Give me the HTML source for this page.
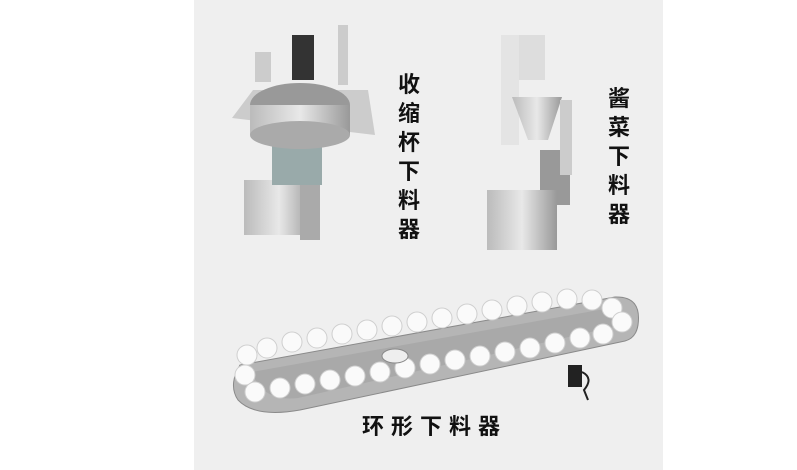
<!DOCTYPE html>
<html><head><meta charset="utf-8"><style>
body{margin:0;width:797px;height:470px;background:#fff;position:relative;overflow:hidden;font-family:"Liberation Sans","Noto Sans CJK SC",sans-serif}
.p{position:absolute;left:194px;top:0;width:469px;height:470px;background:#efefef}
.v{position:absolute;font-size:22px;line-height:29px;width:24px;text-align:center;color:#111;font-weight:bold}
svg{position:absolute;left:0;top:0}
</style></head><body>
<div class="p"></div>
<svg width="797" height="470">
<defs><linearGradient id="m" x1="0" x2="1"><stop offset="0" stop-color="#bbb"/><stop offset=".5" stop-color="#e8e8e8"/><stop offset="1" stop-color="#999"/></linearGradient></defs>
<rect x="244" y="180" width="70" height="55" fill="url(#m)"/>
<rect x="300" y="150" width="20" height="90" fill="#aaa"/>
<rect x="272" y="145" width="50" height="40" fill="#9aa"/>
<polygon points="232,118 253,90 368,90 375,135" fill="#ccc"/>
<ellipse cx="300" cy="105" rx="50" ry="22" fill="#999"/>
<rect x="250" y="105" width="100" height="30" fill="url(#m)"/>
<ellipse cx="300" cy="135" rx="50" ry="14" fill="#aaa"/>
<rect x="292" y="35" width="22" height="45" fill="#333"/>
<rect x="338" y="25" width="10" height="60" fill="#ccc"/>
<rect x="255" y="52" width="16" height="30" fill="#ccc"/>
<rect x="501" y="35" width="44" height="45" fill="#ddd"/>
<rect x="501" y="35" width="18" height="110" fill="#e4e4e4"/>
<polygon points="512,97 562,97 548,140 528,140" fill="url(#m)"/>
<rect x="540" y="150" width="30" height="55" fill="#999"/>
<rect x="487" y="190" width="70" height="60" fill="url(#m)"/>
<rect x="560" y="100" width="12" height="75" fill="#ccc"/>
<path d="M240,365 L615,297 Q642,296 638,325 Q636,338 625,341 L300,410 Q255,418 238,400 Q228,385 240,365Z" fill="#b5b5b5" stroke="#8a8a8a"/>
<path d="M252,372 L610,308 Q625,310 622,325 L298,398 Q262,402 252,372Z" fill="#a9a9a9"/>
<g fill="#fafafa" stroke="#cfcfcf">
<circle cx="247" cy="355" r="10"/><circle cx="267" cy="348" r="10"/><circle cx="292" cy="342" r="10"/><circle cx="317" cy="338" r="10"/><circle cx="342" cy="334" r="10"/><circle cx="367" cy="330" r="10"/><circle cx="392" cy="326" r="10"/><circle cx="417" cy="322" r="10"/><circle cx="442" cy="318" r="10"/><circle cx="467" cy="314" r="10"/><circle cx="492" cy="310" r="10"/><circle cx="517" cy="306" r="10"/><circle cx="542" cy="302" r="10"/><circle cx="567" cy="299" r="10"/><circle cx="592" cy="300" r="10"/><circle cx="612" cy="308" r="10"/><circle cx="622" cy="322" r="10"/>
<circle cx="245" cy="375" r="10"/><circle cx="255" cy="392" r="10"/><circle cx="280" cy="388" r="10"/><circle cx="305" cy="384" r="10"/><circle cx="330" cy="380" r="10"/><circle cx="355" cy="376" r="10"/><circle cx="380" cy="372" r="10"/><circle cx="405" cy="368" r="10"/><circle cx="430" cy="364" r="10"/><circle cx="455" cy="360" r="10"/><circle cx="480" cy="356" r="10"/><circle cx="505" cy="352" r="10"/><circle cx="530" cy="348" r="10"/><circle cx="555" cy="343" r="10"/><circle cx="580" cy="338" r="10"/><circle cx="603" cy="334" r="10"/>
</g>
<ellipse cx="395" cy="356" rx="13" ry="7" fill="#eee" stroke="#888"/>
<rect x="568" y="365" width="14" height="22" fill="#222"/>
<path d="M582,372 q12,6 2,18 l4,10" stroke="#222" stroke-width="2" fill="none"/>
</svg>
<div class="v" style="left:397px;top:70px">收<br>缩<br>杯<br>下<br>料<br>器</div>
<div class="v" style="left:607px;top:84px">酱<br>菜<br>下<br>料<br>器</div>
<div style="position:absolute;left:362px;top:409px;font-size:22px;letter-spacing:7px;color:#111;font-weight:bold">环形下料器</div>
</body></html>
